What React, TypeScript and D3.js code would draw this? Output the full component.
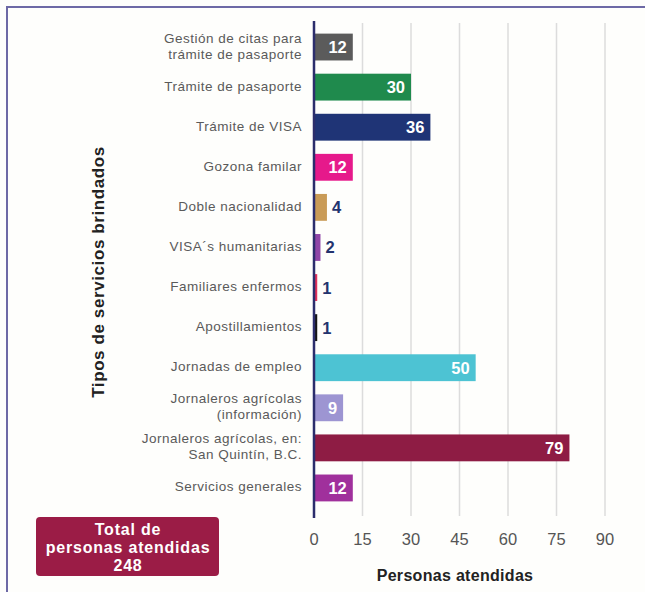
import React from "react";
import * as d3 from "d3";

const categories: string[][] = [
  ["Gestión de citas para", "trámite de pasaporte"],
  ["Trámite de pasaporte"],
  ["Trámite de VISA"],
  ["Gozona familar"],
  ["Doble nacionalidad"],
  ["VISA´s humanitarias"],
  ["Familiares enfermos"],
  ["Apostillamientos"],
  ["Jornadas de empleo"],
  ["Jornaleros agrícolas", "(información)"],
  ["Jornaleros agrícolas, en:", "San Quintín, B.C."],
  ["Servicios generales"],
];
const values: number[] = [12, 30, 36, 12, 4, 2, 1, 1, 50, 9, 79, 12];
const colors: string[] = [
  "#5b5b5b", "#1f8a4d", "#1f3476", "#e6198b", "#c99b57", "#8f45a8",
  "#e0305c", "#151515", "#4dc3d3", "#9d95d2", "#8e1c44", "#a0309c",
];
const xTicks: number[] = [0, 15, 30, 45, 60, 75, 90];
const totalLines: string[] = ["Total de", "personas atendidas", "248"];
const xTitle = "Personas atendidas";
const yTitle = "Tipos de servicios brindados";

const W = 645;
const H = 592;

export default function App() {
  const x = d3.scaleLinear().domain([0, 90]).range([314, 605]);
  const keys = categories.map((c) => c.join(" "));
  const y = d3
    .scaleBand<string>()
    .domain(keys)
    .range([27, 508])
    .paddingInner(0.33)
    .paddingOuter(0.165);
  const font = "'Liberation Sans', Arial, sans-serif";

  return (
    <svg
      width={W}
      height={H}
      style={{ position: "absolute", left: 0, top: 0, background: "#fefefc" }}
    >
      {/* frame */}
      <rect x={7} y={7} width={W + 10} height={H + 10} fill="none" stroke="#6d69a6" strokeWidth={2} />
      {/* gridlines */}
      {xTicks.slice(1).map((t) => (
        <line key={t} x1={x(t)} x2={x(t)} y1={23} y2={516} stroke="#dcdcdc" strokeWidth={1.5} />
      ))}
      {/* bars */}
      {keys.map((k, i) => {
        const y0 = y(k)!;
        const bw = y.bandwidth();
        const x1 = x(values[i]);
        const inside = values[i] >= 9;
        return (
          <g key={k}>
            <rect x={x(0)} y={y0} width={x1 - x(0)} height={bw} fill={colors[i]} />
            <text
              x={inside ? x1 - 6 : x1 + 5}
              y={y0 + bw / 2 + 6}
              textAnchor={inside ? "end" : "start"}
              fill={inside ? "#ffffff" : "#23336e"}
              fontFamily={font}
              fontWeight="bold"
              fontSize={16.5}
            >
              {values[i]}
            </text>
            {categories[i].map((line, j) => (
              <text
                key={j}
                x={302}
                y={y0 + bw / 2 + 3.5 + (j - (categories[i].length - 1) / 2) * 16}
                textAnchor="end"
                fill="#5a5a5a"
                fontFamily={font}
                fontSize={13.5}
                letterSpacing={0.5}
              >
                {line}
              </text>
            ))}
          </g>
        );
      })}
      {/* axis line */}
      <line x1={x(0)} x2={x(0)} y1={21} y2={518} stroke="#2b2d6c" strokeWidth={2.5} />
      {/* tick labels */}
      {xTicks.map((t) => (
        <text
          key={t}
          x={x(t)}
          y={545}
          textAnchor="middle"
          fill="#555"
          fontFamily={font}
          fontSize={16.5}
        >
          {t}
        </text>
      ))}
      {/* axis titles */}
      <text
        x={455}
        y={581}
        textAnchor="middle"
        fill="#222"
        fontFamily={font}
        fontWeight="bold"
        fontSize={16}
        letterSpacing={0.3}
      >
        {xTitle}
      </text>
      <text
        transform={`translate(104, 272) rotate(-90)`}
        textAnchor="middle"
        fill="#222"
        fontFamily={font}
        fontWeight="bold"
        fontSize={17}
        letterSpacing={0.6}
      >
        {yTitle}
      </text>
      {/* total box */}
      <rect x={36} y={517} width={183} height={59} rx={4} fill="#9b1c46" />
      {totalLines.map((l, i) => (
        <text
          key={i}
          x={128}
          y={535 + i * 18}
          textAnchor="middle"
          fill="#fff"
          fontFamily={font}
          fontWeight="bold"
          fontSize={16}
          letterSpacing={0.8}
        >
          {l}
        </text>
      ))}
    </svg>
  );
}
